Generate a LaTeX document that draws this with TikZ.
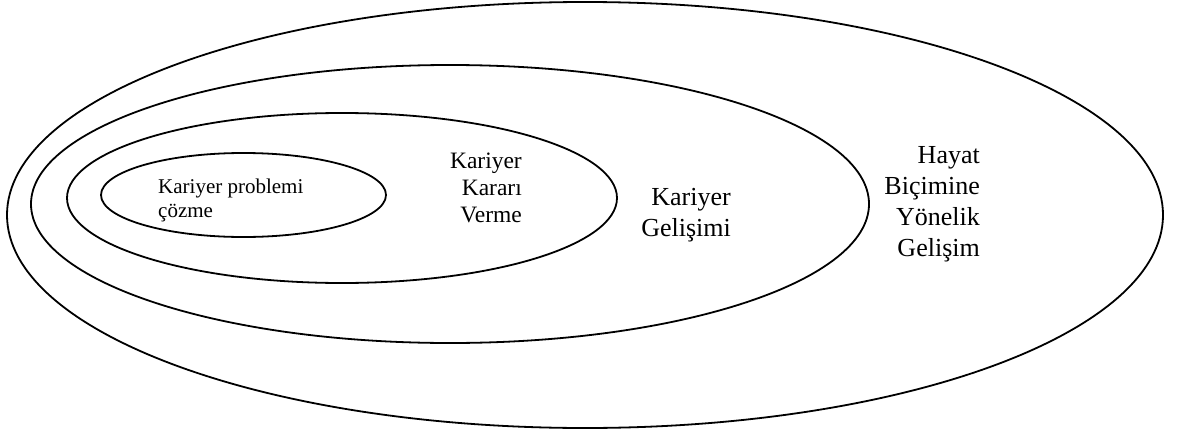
\documentclass[tikz,border=0pt]{standalone}
\usepackage{fontspec}
\setmainfont{Liberation Serif}
\usepackage{tikz}
\definecolor{ink}{HTML}{000000}
\tikzset{
  ring/.style={draw=ink, line width=1.8pt},
  lab/.style={text=ink, inner sep=0pt},
  labl/.style={lab, align=left, anchor=base west},
  labr/.style={lab, align=right, anchor=base east},
}

\begin{document}
\begin{tikzpicture}[x=1pt,y=-1pt]
  \useasboundingbox (0,0) rectangle (1182,436);
  % ring centres, outermost first
  \coordinate (C1) at (585,215);
  \coordinate (C2) at (450,204);
  \coordinate (C3) at (342,198);
  \coordinate (C4) at (243.5,195);
  \draw[ring] (C1) ellipse [x radius=578pt, y radius=213pt];
  \draw[ring] (C2) ellipse [x radius=419pt, y radius=139pt];
  \draw[ring] (C3) ellipse [x radius=275pt, y radius=85pt];
  \draw[ring] (C4) ellipse [x radius=142.5pt, y radius=42pt];
  % labels (base = last line)
  \node[labl, font=\fontsize{21}{23.5}\selectfont] (cozme) at (158,217)
    {Kariyer problemi\\çözme};
  \node[labr, font=\fontsize{23.5}{27}\selectfont] (karar) at (522,222)
    {Kariyer\\Kararı\\Verme};
  \node[labr, font=\fontsize{26}{31}\selectfont] (gelisim) at (731,236)
    {Kariyer\\Gelişimi};
  \node[labr, font=\fontsize{26}{31}\selectfont] (hayat) at (980,256)
    {Hayat\\Biçimine\\Yönelik\\Gelişim};
\end{tikzpicture}
\end{document}
